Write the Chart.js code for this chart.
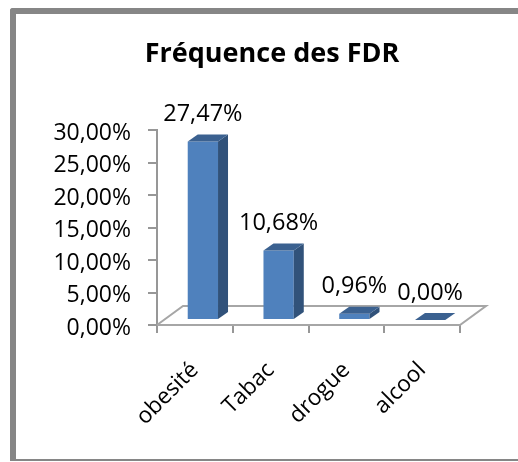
<!DOCTYPE html>
<html lang="fr">
<head>
    <meta charset="UTF-8">
    <title>Fréquence des FDR</title>
    <script src="https://cdn.jsdelivr.net/npm/chart.js"></script>
    <style>
        html, body {
            margin: 0;
            background: #fff;
            overflow: hidden;
        }
        #frame {
            position: absolute;
            left: 10px;
            top: 8px;
            width: 520px;
            height: 445px;
            border-left: 6px solid #868686;
            border-top: 6px solid #868686;
            border-bottom: 2px solid #868686;
            border-top-left-radius: 3px;
        }
        #chart {
            position: absolute;
            left: 0;
            top: 0;
        }
    </style>
</head>
<body>
    <div id="frame"></div>
    <canvas id="chart" width="518" height="462"></canvas>

    <script>
        const chartTitle = 'Fréquence des FDR';
        const categories = ['obesité', 'Tabac', 'drogue', 'alcool'];
        const values = [27.47, 10.68, 0.96, 0];
        const valueLabels = ['27,47%', '10,68%', '0,96%', '0,00%'];
        const tickLabels = ['0,00%', '5,00%', '10,00%', '15,00%', '20,00%', '25,00%', '30,00%'];

        const fontFamily = '"Open Sans", sans-serif';
        const axisColor = '#979797';

        // fake 3D: bars sit on the floor, shifted from the axis corner
        const barShiftX = 8;
        const barShiftY = -5;
        const depthX = 10;
        const depthY = -7;
        const floorDepthX = 26;
        const floorDepthY = -19;

        const fake3d = {
            id: 'fake3d',
            beforeDatasetsDraw(chart) {
                const { ctx, chartArea } = chart;
                const zero = chart.scales.y.getPixelForValue(0);

                ctx.save();
                ctx.strokeStyle = '#a6a6a6';
                ctx.lineWidth = 2;
                ctx.beginPath();
                ctx.moveTo(chartArea.left, zero);
                ctx.lineTo(chartArea.left + floorDepthX, zero + floorDepthY);
                ctx.lineTo(chartArea.right + floorDepthX, zero + floorDepthY);
                ctx.lineTo(chartArea.right, zero);
                ctx.lineTo(chartArea.left, zero);
                ctx.stroke();
                ctx.restore();

                ctx.save();
                ctx.translate(barShiftX, barShiftY);
            },
            afterDatasetsDraw(chart) {
                const { ctx } = chart;
                const bars = chart.getDatasetMeta(0).data;

                bars.forEach(bar => {
                    const half = bar.width / 2;
                    const left = bar.x - half;
                    const right = bar.x + half;

                    // side
                    ctx.fillStyle = '#31527a';
                    ctx.beginPath();
                    ctx.moveTo(right, bar.y);
                    ctx.lineTo(right + depthX, bar.y + depthY);
                    ctx.lineTo(right + depthX, bar.base + depthY);
                    ctx.lineTo(right, bar.base);
                    ctx.closePath();
                    ctx.fill();

                    // top
                    ctx.fillStyle = '#3b6190';
                    ctx.beginPath();
                    ctx.moveTo(left, bar.y);
                    ctx.lineTo(left + depthX, bar.y + depthY);
                    ctx.lineTo(right + depthX, bar.y + depthY);
                    ctx.lineTo(right, bar.y);
                    ctx.closePath();
                    ctx.fill();
                });
                ctx.restore();

                // value labels above each bar
                ctx.save();
                ctx.fillStyle = '#000';
                ctx.font = '23.5px ' + fontFamily;
                ctx.textAlign = 'center';
                ctx.textBaseline = 'middle';
                bars.forEach((bar, i) => {
                    ctx.fillText(valueLabels[i], bar.x + barShiftX, bar.y + barShiftY + depthY - 20);
                });

                // title sits off the canvas centre, so it is placed by hand
                ctx.font = 'bold 27px ' + fontFamily;
                ctx.fillText(chartTitle, 272, 54);
                ctx.restore();
            }
        };

        new Chart(document.getElementById('chart'), {
            type: 'bar',
            data: {
                labels: categories,
                datasets: [{
                    data: values,
                    backgroundColor: '#4f81bd',
                    barPercentage: 0.4,
                    categoryPercentage: 1
                }]
            },
            options: {
                responsive: false,
                animation: false,
                layout: {
                    padding: { left: 50, right: 58, top: 130, bottom: 0 }
                },
                plugins: {
                    legend: { display: false },
                    tooltip: { enabled: false },
                    title: { display: false }
                },
                scales: {
                    x: {
                        afterFit: scale => { scale.height = 137; },
                        border: { color: axisColor, width: 2 },
                        grid: {
                            color: axisColor,
                            lineWidth: 2,
                            drawOnChartArea: false,
                            tickLength: 8
                        },
                        ticks: {
                            color: '#000',
                            font: { family: fontFamily, size: 22.5 },
                            minRotation: 45,
                            maxRotation: 45,
                            padding: 24
                        }
                    },
                    y: {
                        min: 0,
                        max: 30,
                        afterFit: scale => { scale.width = 107; },
                        border: { color: axisColor, width: 2 },
                        grid: {
                            color: axisColor,
                            lineWidth: 2,
                            drawOnChartArea: false,
                            tickLength: 9
                        },
                        ticks: {
                            stepSize: 5,
                            color: '#000',
                            font: { family: fontFamily, size: 23 },
                            padding: 17,
                            labelOffset: 3,
                            callback: (value, i) => tickLabels[i]
                        }
                    }
                }
            },
            plugins: [fake3d]
        });
    </script>
</body>
</html>
